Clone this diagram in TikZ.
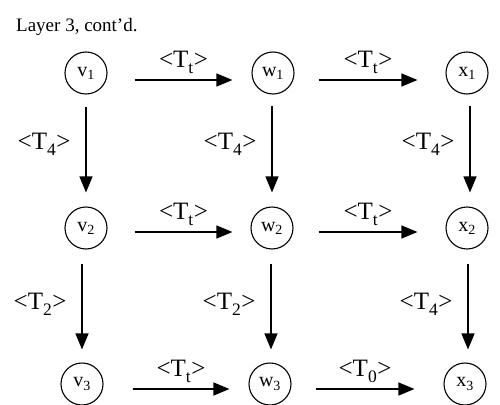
\documentclass[tikz,border=0pt]{standalone}
\usepackage{fontspec}
\setmainfont{Liberation Serif}
\usetikzlibrary{arrows.meta}
\tikzset{
  state/.style={draw, circle, line width=1.1pt, minimum size=42pt, inner sep=0pt, font=\fontsize{20}{20}\selectfont},
  arr/.style={line width=1.2pt, -{Triangle[length=16pt,width=13pt]}},
  lbl/.style={inner sep=0pt, font=\fontsize{25}{25}\selectfont},
  ttl/.style={inner sep=0pt, font=\fontsize{19}{19}\selectfont}
}
\newcommand{\lab}[1]{<T\textsubscript{\raisebox{-0.25ex}{#1}}>}
\begin{document}
\begin{tikzpicture}[x=1pt,y=-1pt]
\useasboundingbox (0,0) rectangle (500,404);
\node[ttl, anchor=base west] (title) at (16,32) {Layer 3, cont'd.};
\node[state] (v1) at (86,73) {v\textsubscript{1}};
\node[state] (w1) at (273,73) {w\textsubscript{1}};
\node[state] (x1) at (467,73) {x\textsubscript{1}};
\node[state] (v2) at (86,228) {v\textsubscript{2}};
\node[state] (w2) at (272,228) {w\textsubscript{2}};
\node[state] (x2) at (467,228) {x\textsubscript{2}};
\node[state] (v3) at (82,384) {v\textsubscript{3}};
\node[state] (w3) at (270,384) {w\textsubscript{3}};
\node[state] (x3) at (465,384) {x\textsubscript{3}};
% horizontal
\draw[arr] ([xshift=27pt,yshift=-7pt]v1.east) -- node[lbl, midway, above=6pt] {\lab{t}} ([xshift=-19pt,yshift=-7pt]w1.west);
\draw[arr] ([xshift=24pt,yshift=-7pt]w1.east) -- node[lbl, midway, above=6pt] {\lab{t}} ([xshift=-28pt,yshift=-7pt]x1.west);
\draw[arr] ([xshift=27pt,yshift=-4pt]v2.east) -- node[lbl, midway, above=6pt] {\lab{t}} ([xshift=-18pt,yshift=-4pt]w2.west);
\draw[arr] ([xshift=25pt,yshift=-4pt]w2.east) -- node[lbl, midway, above=6pt] {\lab{t}} ([xshift=-28pt,yshift=-4pt]x2.west);
\draw[arr] ([xshift=29pt,yshift=-5pt]v3.east) -- node[lbl, midway, above=6pt] {\lab{t}} ([xshift=-19pt,yshift=-5pt]w3.west);
\draw[arr] ([xshift=24pt,yshift=-5pt]w3.east) -- node[lbl, midway, above=6pt] {\lab{0}} ([xshift=-29pt,yshift=-5pt]x3.west);
% vertical
\draw[arr] ([yshift=-12pt]v1.south) -- node[lbl, midway, left=15pt, yshift=5pt] {\lab{4}} ([yshift=14pt]v2.north);
\draw[arr] ([xshift=-1pt,yshift=-11pt]w1.south) -- node[lbl, midway, left=15pt, yshift=5pt] {\lab{4}} ([yshift=14pt]w2.north);
\draw[arr] ([xshift=3pt,yshift=-11pt]x1.south) -- node[lbl, midway, left=15pt, yshift=5pt] {\lab{4}} ([xshift=3pt,yshift=14pt]x2.north);
\draw[arr] ([xshift=-4pt,yshift=-14pt]v2.south) -- node[lbl, midway, left=15pt, yshift=2pt] {\lab{2}} ([yshift=13pt]v3.north);
\draw[arr] ([xshift=-1pt,yshift=-14pt]w2.south) -- node[lbl, midway, left=15pt, yshift=2pt] {\lab{2}} ([xshift=1pt,yshift=13pt]w3.north);
\draw[arr] ([xshift=1pt,yshift=-14pt]x2.south) -- node[lbl, midway, left=15pt, yshift=2pt] {\lab{4}} ([xshift=3pt,yshift=13pt]x3.north);
\end{tikzpicture}
\end{document}
